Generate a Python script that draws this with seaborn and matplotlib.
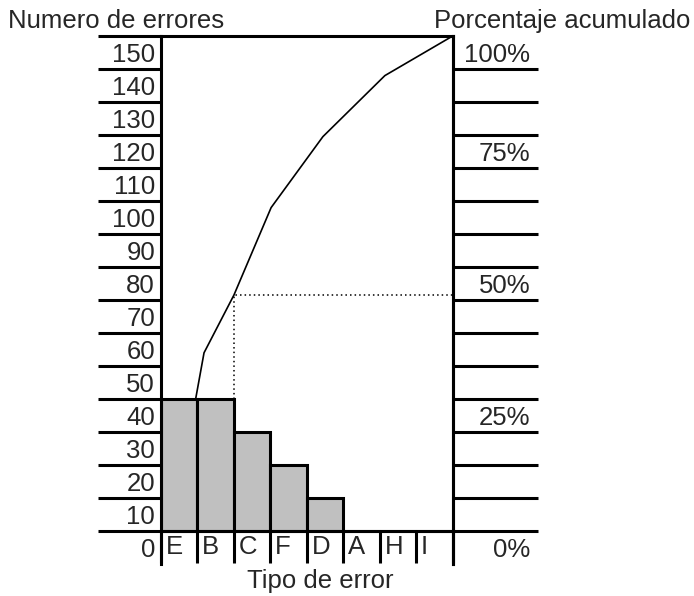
import numpy as np
import matplotlib
matplotlib.use("Agg")
import matplotlib.pyplot as plt
import seaborn as sns

# Data
categories = ['E', 'B', 'C', 'F', 'D', 'A', 'H', 'I']
errors = [40, 40, 30, 20, 10, 0, 0, 0]
# cumulative curve vertices (x in category cells, y in number of errors)
cum_x = [0.95, 1.18, 2.0, 3.02, 4.44, 6.14, 8.0]
cum_y = [40, 54, 71.5, 98, 119.5, 138, 150]
half_level = 71.5
left_labels = [str(v) for v in range(0, 151, 10)]
right_labels = ['0%', '25%', '50%', '75%', '100%']
right_label_pos = [0, 40, 80, 120, 150]

sns.set_style("ticks")
plt.rcParams['font.family'] = ['Liberation Sans', 'DejaVu Sans']
FS = 18.5
LW = 2.2

fig = plt.figure(figsize=(6.94, 5.96), dpi=100)
ax = fig.add_axes([161 / 694, 32 / 596, 291.7 / 694, 528 / 596])

# bars
sns.barplot(x=np.arange(len(categories)), y=errors, native_scale=True, width=1,
            color='#c0c0c0', saturation=1, edgecolor='black', linewidth=LW, ax=ax)

# cumulative line (shift cell units so bars are centred on integers)
sns.lineplot(x=np.array(cum_x) - 0.5, y=cum_y, sort=False, color='black',
             linewidth=1.2, ax=ax)

# dotted 50% guide from the left edge of C
cx = categories.index('C') - 0.5
ax.plot([cx, cx, len(categories) - 0.5], [errors[1], half_level, half_level],
        color='black', linestyle=(0, (1, 2)), linewidth=1.1)

ax.set_xlim(-0.5, len(categories) - 0.5)
ax.set_ylim(-10, 150)
ax.set_xlabel('')
ax.set_ylabel('')

for s in ['left', 'right', 'top', 'bottom']:
    ax.spines[s].set_visible(True)
    ax.spines[s].set_linewidth(LW)
    ax.spines[s].set_color('black')
ax.spines['bottom'].set_position(('data', 0))

# x axis: boundary ticks below zero line, letters left aligned in each cell
ax.set_xticks(np.arange(len(categories) + 1) - 0.5, labels=[''] * (len(categories) + 1))
ax.set_xticks(np.arange(len(categories)) - 0.5 + 0.13, labels=categories, minor=True)
ax.tick_params(axis='x', which='major', direction='out', length=23, width=LW,
               bottom=True, top=False, color='black')
ax.tick_params(axis='x', which='minor', length=0, pad=3, labelsize=FS,
               bottom=True, top=False)
for lbl in ax.get_xticklabels(minor=True):
    lbl.set_horizontalalignment('left')

# left axis: long tick lines, labels hanging below each line
ax.set_yticks(range(0, 151, 10), labels=[''] * 16)
ax.set_yticks(np.arange(0, 151, 10) - 5, labels=left_labels, minor=True)
ax.tick_params(axis='y', which='major', direction='out', length=45.4, width=LW,
               left=True, right=False, color='black')
ax.tick_params(axis='y', which='minor', length=0, pad=4.3, labelsize=FS,
               left=True, right=False)

# right axis: cumulative percentage
ax2 = ax.twinx()
ax2.set_ylim(-10, 150)
for s in ['left', 'top', 'bottom']:
    ax2.spines[s].set_visible(False)
ax2.spines['right'].set_linewidth(LW)
ax2.spines['right'].set_color('black')
ax2.set_yticks(range(0, 141, 10), labels=[''] * 15)
ax2.set_yticks(np.array(right_label_pos) - 5, labels=right_labels, minor=True)
ax2.tick_params(axis='y', which='major', direction='out', length=61.2, width=LW,
                right=True, left=False, color='black')
ax2.tick_params(axis='y', which='minor', length=0, pad=56, labelsize=FS,
                right=True, left=False)
for lbl in ax2.get_yticklabels(minor=True):
    lbl.set_horizontalalignment('right')

fig.text(8 / 694, 1 - 28 / 596, 'Numero de errores', fontsize=FS,
         ha='left', va='baseline')
fig.text(690 / 694, 1 - 28 / 596, 'Porcentaje acumulado', fontsize=FS,
         ha='right', va='baseline')
fig.text(320 / 694, 1 - 588 / 596, 'Tipo de error', fontsize=FS,
         ha='center', va='baseline')

fig.savefig('out.png', dpi=100)
